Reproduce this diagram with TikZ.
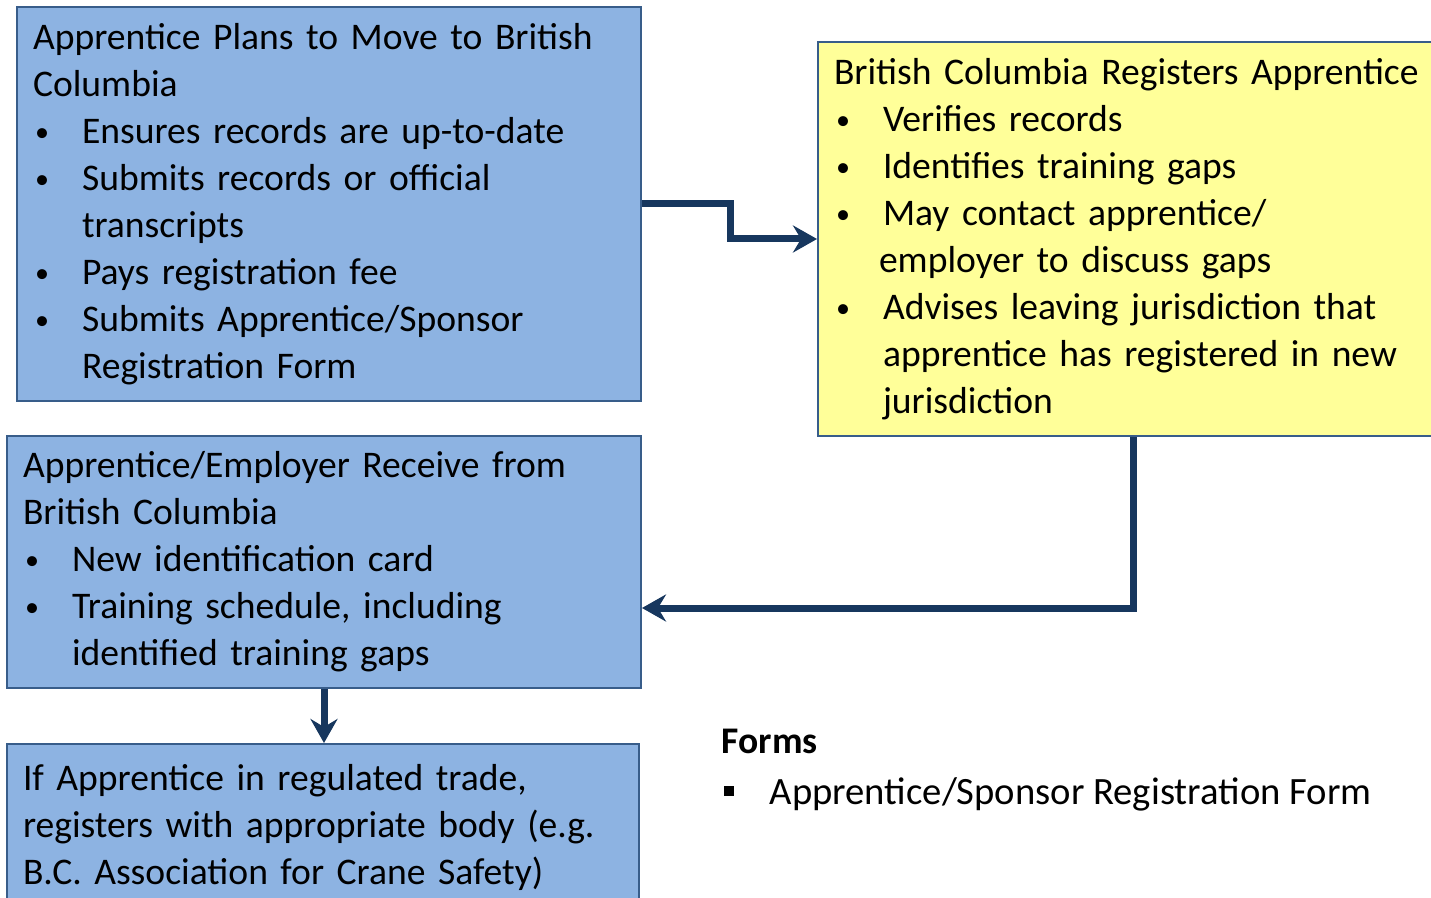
\documentclass[tikz,border=0pt]{standalone}
\usepackage{fontspec}
\setmainfont{Carlito}
\usetikzlibrary{arrows.meta, positioning}
\definecolor{clrBlue}{HTML}{8DB3E2}
\definecolor{clrYellow}{HTML}{FFFF99}
\definecolor{clrEdge}{HTML}{385D8A}
\definecolor{clrLink}{HTML}{17375E}
\newcommand{\bul}{\makebox[0.49cm][l]{\hspace*{0.02cm}\raisebox{0.02cm}{\fontsize{8}{8}\selectfont\textbullet}}}
\newcommand{\ind}{\hspace*{0.49cm}}
\tikzset{
  card/.style = {rectangle, draw=clrEdge, line width=0.02cm, anchor=north west,
                 inner xsep=0.16cm, inner ysep=0pt, align=left,
                 font=\fontsize{10.7}{13.37}\selectfont},
  link/.style = {-{Stealth[length=0.24cm, width=0.27cm, inset=0.08cm]},
                 line width=0.07cm, draw=clrLink},
  plain/.style = {anchor=base west, inner sep=0pt, font=\fontsize{10.7}{13.37}\selectfont},
}

\begin{document}
\begin{tikzpicture}
  \useasboundingbox (0,0) rectangle (14.31,-8.98);

  % Left column: the three blue steps
  \node[card, fill=clrBlue, minimum width=6.24cm, minimum height=3.94cm, text width=5.92cm]
    (Plans) at (0.16,-0.06)
    {Apprentice Plans to Move to British\\
     Columbia\\
     \bul Ensures records are up-to-date\\
     \bul Submits records or official\\
     \ind transcripts\\
     \bul Pays registration fee\\
     \bul Submits Apprentice/Sponsor\\
     \ind Registration Form};
  \node[card, fill=clrBlue, minimum width=6.34cm, minimum height=2.52cm, text width=6.02cm]
    (Receive) at (0.06,-4.35)
    {Apprentice/Employer Receive from\\
     British Columbia\\
     \bul New identification card\\
     \bul Training schedule, including\\
     \ind identified training gaps};
  \node[card, fill=clrBlue, minimum width=6.32cm, minimum height=1.67cm, text width=6.00cm]
    (Trade) at (0.06,-7.43)
    {If Apprentice in regulated trade,\\
     registers with appropriate body (e.g.\\
     B.C. Association for Crane Safety)};

  % Right: the yellow step
  \node[card, fill=clrYellow, minimum width=6.30cm, minimum height=3.94cm, text width=5.98cm]
    (Registers) at (8.17,-0.41)
    {\mbox{British Columbia Registers Apprentice}\\
     \bul Verifies records\\
     \bul Identifies training gaps\\
     \bul May contact apprentice/\\
     \hspace*{0.45cm}employer to discuss gaps\\
     \bul Advises leaving jurisdiction that\\
     \ind apprentice has registered in new\\
     \ind jurisdiction};

  % Forms list
  \node[plain, font=\fontsize{10.7}{13.37}\selectfont\bfseries] (FormsHead) at (7.21,-7.53) {Forms};
  \node[plain, font=\fontsize{11}{13.37}\selectfont] (FormsItem) at (7.21,-8.04)
    {\makebox[0.48cm][l]{\hspace*{0.02cm}\rule[0.08cm]{0.1cm}{0.1cm}}Apprentice/Sponsor Registration Form};

  % Connectors
  \draw[link] (Plans.east) -- ++(0.88,0) |- (Registers.west);
  \draw[link] (Registers.south) |- ([yshift=-0.46cm]Receive.east);
  \draw[link] (Receive.south) -- (Receive.south |- Trade.north);

\end{tikzpicture}
\end{document}
